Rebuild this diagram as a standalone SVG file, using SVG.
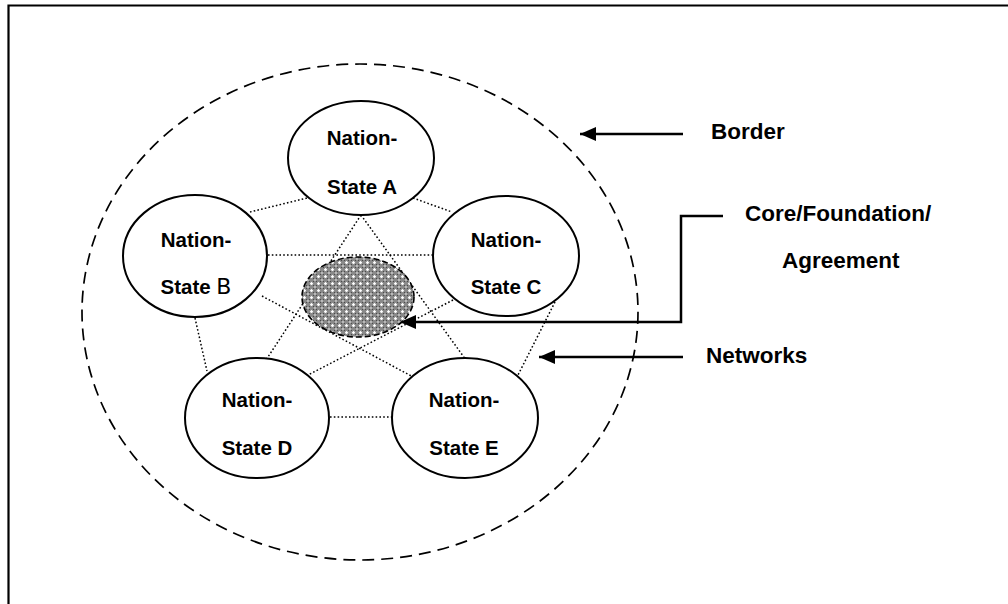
<svg xmlns="http://www.w3.org/2000/svg" width="1008" height="604" viewBox="0 0 1008 604">
  <style>
    .node { fill: #fff; stroke: #000; stroke-width: 2; }
    .nt { font-family: "Liberation Sans", Arial, sans-serif; font-weight: bold; font-size: 20.5px; fill: #000; text-anchor: middle; }
    .lbl { font-family: "Liberation Sans", Arial, sans-serif; font-weight: bold; font-size: 22.5px; fill: #000; }
    .net { stroke: #000; stroke-width: 1.5; stroke-dasharray: 1.6 2.2; fill: none; }
    .arr { stroke: #000; stroke-width: 2.5; fill: none; }
  </style>
  <defs>
    <pattern id="check" width="7" height="7" patternUnits="userSpaceOnUse">
      <rect width="7" height="7" fill="#8a8a8a"/>
      <path d="M0 0L7 7M7 0L0 7" stroke="#444" stroke-width="0.9"/>
      <circle cx="3.5" cy="3.5" r="1.5" fill="#fff"/>
      <circle cx="0" cy="0" r="0.9" fill="#eee"/>
      <circle cx="7" cy="0" r="0.9" fill="#eee"/>
      <circle cx="0" cy="7" r="0.9" fill="#eee"/>
      <circle cx="7" cy="7" r="0.9" fill="#eee"/>
    </pattern>
    <marker id="ah" markerWidth="16" markerHeight="14" refX="16" refY="7" orient="auto" markerUnits="userSpaceOnUse">
      <path d="M0 0L16 7L0 14Z" fill="#000"/>
    </marker>
  </defs>
  <rect width="1008" height="604" fill="#fff"/>
  <path d="M8.5 604V5.5H1008" fill="none" stroke="#000" stroke-width="2.2"/>

  <g id="border">
    <ellipse cx="360" cy="312" rx="278" ry="248" fill="none" stroke="#000" stroke-width="1.7" stroke-dasharray="12 7"/>
  </g>

  <g id="connectors">
    <line class="net" x1="250" y1="212" x2="307" y2="198"/>
    <line class="net" x1="413" y1="198" x2="452" y2="212"/>
    <line class="net" x1="268" y1="255" x2="433" y2="255"/>
    <line class="net" x1="361" y1="215" x2="266" y2="360"/>
    <line class="net" x1="361" y1="215" x2="466" y2="360"/>
    <line class="net" x1="262" y1="296" x2="415" y2="378"/>
    <line class="net" x1="453" y1="300" x2="306" y2="376"/>
    <line class="net" x1="195" y1="318" x2="207" y2="371"/>
    <line class="net" x1="555" y1="302" x2="517" y2="377"/>
    <line class="net" x1="330" y1="417" x2="392" y2="417"/>
    <path class="arr" d="M683 134H580" marker-end="url(#ah)"/>
    <path class="arr" d="M723 216H681V322H400" marker-end="url(#ah)"/>
    <path class="arr" d="M683 357H539" marker-end="url(#ah)"/>
  </g>

  <g id="core">
    <ellipse cx="358" cy="297" rx="56" ry="40" fill="url(#check)" stroke="#000" stroke-width="1.6" stroke-dasharray="6 3"/>
  </g>

  <g id="nodeA">
    <ellipse class="node" cx="361" cy="158" rx="73" ry="57"/>
    <text class="nt" x="362" y="145">Nation-</text>
    <text class="nt" x="362" y="194">State A</text>
  </g>
  <g id="nodeB">
    <ellipse class="node" cx="195" cy="256" rx="72" ry="61"/>
    <text class="nt" x="196" y="247">Nation-</text>
    <text class="nt" x="196" y="294">State <tspan font-weight="normal" font-family="'DejaVu Sans', sans-serif" font-size="22">B</tspan></text>
  </g>
  <g id="nodeC">
    <ellipse class="node" cx="506" cy="256" rx="73" ry="60"/>
    <text class="nt" x="506" y="247">Nation-</text>
    <text class="nt" x="506" y="294">State C</text>
  </g>
  <g id="nodeD">
    <ellipse class="node" cx="257" cy="418" rx="72" ry="60"/>
    <text class="nt" x="257" y="407">Nation-</text>
    <text class="nt" x="257" y="455">State D</text>
  </g>
  <g id="nodeE">
    <ellipse class="node" cx="465" cy="418" rx="73" ry="60"/>
    <text class="nt" x="464" y="407">Nation-</text>
    <text class="nt" x="464" y="455">State E</text>
  </g>

  <g id="labels">
    <text class="lbl" x="711" y="139">Border</text>
    <text class="lbl" x="745" y="221">Core/Foundation/</text>
    <text class="lbl" x="782" y="268">Agreement</text>
    <text class="lbl" x="706" y="363">Networks</text>
  </g>
</svg>
